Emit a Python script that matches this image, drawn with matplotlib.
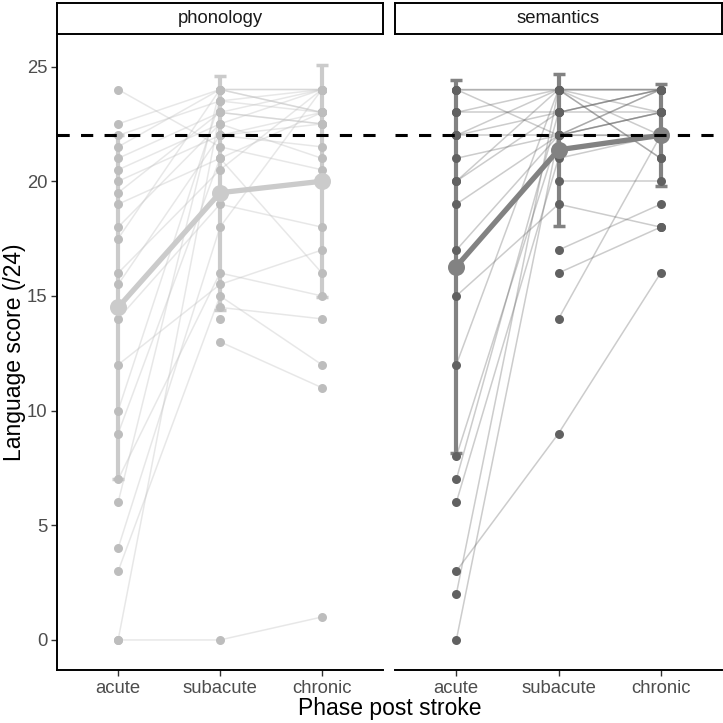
import numpy as np
import matplotlib
matplotlib.use("Agg")
import matplotlib.pyplot as plt

plt.rcParams["font.family"] = ["Liberation Sans", "DejaVu Sans"]

PHASES = ["acute", "subacute", "chronic"]
FACETS = ["phonology", "semantics"]
nan = np.nan

# individual participants: (acute, subacute, chronic), nan = missing
PHON_SUBJ = [
    (24, 21.5, 20.5), (22.5, 24, 24), (22, 23.5, 23), (21.5, 24, 24),
    (21, 23, 22.5), (20.5, 22.5, 24), (20, 22, 21.5), (19.5, 23, 24),
    (19, 21, 23), (18, 22.5, 21), (17.5, 24, 23), (16, 20.5, 24),
    (15.5, 22, 22.5), (14, 19, 18), (12, 15.5, 17), (10, 23.5, 24),
    (9, 21, 16), (7, 16, 15), (6, 24, 23), (4, 18, 24), (3, 15, 12),
    (0, 0, 1), (0, 23, 22.5), (nan, 13, 11), (nan, 14.5, 14),
    (nan, 14, nan), (nan, 22, 23), (nan, 24, nan), (nan, 19.5, 20),
]
SEM_SUBJ = [
    (24, 24, 24), (24, 22, 23), (23, 23, 23), (23, 24, 24), (22, 22, 22),
    (22, 24, 21), (21, 22, 23), (20, 23, 24), (19, 22, 24), (17, 22, 23),
    (15, 19, 18), (12, 24, 22), (8, 22, 24), (7, 23, 24), (6, 21, 22),
    (3, 9, 16), (2, 24, 24), (0, 22, 22), (nan, 20, 20), (nan, 17, 19),
    (nan, 16, 18), (nan, 14, 22), (20, 24, 21), (22, 23, 24), (24, 24, 23),
]
# group summaries (mean +/- SD)
PHON_MEAN = [14.5, 19.5, 20.0]
PHON_SD = [7.5, 5.1, 5.05]
SEM_MEAN = [16.28, 21.37, 22.0]
SEM_SD = [8.15, 3.3, 2.22]
CUTOFF = 22

PT_COL = {"phonology": "#bdbdbd", "semantics": "#616161"}
SUM_COL = {"phonology": "#cbcbcb", "semantics": "#828282"}
LINE_ALPHA = {"phonology": 0.35, "semantics": 0.32}

W = H = 723
fig = plt.figure(figsize=(W / 100, H / 100), dpi=100)

def fx(px):
    return px / W

def fy(px):
    return 1 - px / H

panels = [(57, 383), (395, 722)]
top, bot = 34, 670
data = {"phonology": (PHON_SUBJ, PHON_MEAN, PHON_SD),
        "semantics": (SEM_SUBJ, SEM_MEAN, SEM_SD)}
x = np.arange(len(PHASES))

for i, (facet, (l, r)) in enumerate(zip(FACETS, panels)):
    ax = fig.add_axes([fx(l), fy(bot), fx(r - l), fy(top) - fy(bot)])
    subj, mean, sd = data[facet]
    for s in subj:
        s = np.array(s, dtype=float)
        ok = ~np.isnan(s)
        ax.plot(x[ok], s[ok], color=PT_COL[facet], alpha=LINE_ALPHA[facet],
                lw=1.1, zorder=1)
        ax.scatter(x[ok], s[ok], s=42, color=PT_COL[facet], lw=0, zorder=5)
    ax.errorbar(x, mean, yerr=sd, fmt="none", ecolor=SUM_COL[facet],
                elinewidth=3, capsize=4, capthick=2.5, zorder=3)
    ax.plot(x, mean, color=SUM_COL[facet], lw=3.8, zorder=4,
            solid_capstyle="round")
    ax.scatter(x, mean, s=150, color=SUM_COL[facet], lw=0, zorder=6)
    ax.axhline(CUTOFF, color="black", lw=2.2, dashes=(4, 3.7), zorder=7)

    ax.set_xlim(-0.6, 2.6)
    ax.set_ylim(-1.31, 26.42)
    ax.set_xticks(x)
    ax.set_xticklabels(PHASES, fontsize=13.3, color="#4d4d4d")
    ax.set_yticks([0, 5, 10, 15, 20, 25])
    ax.tick_params(axis="both", length=4, width=1, color="#333333", pad=3)
    for sp in ["top", "right"]:
        ax.spines[sp].set_visible(False)
    ax.spines["bottom"].set_linewidth(1.4)
    ax.spines["left"].set_linewidth(1.4)
    if i == 0:
        ax.set_yticklabels([0, 5, 10, 15, 20, 25], fontsize=13.3, color="#4d4d4d")
    else:
        ax.spines["left"].set_visible(False)
        ax.tick_params(axis="y", left=False, labelleft=False)

    # facet strip
    sax = fig.add_axes([fx(l), fy(top), fx(r - l), fy(3) - fy(top)])
    sax.set_xticks([])
    sax.set_yticks([])
    for sp in sax.spines.values():
        sp.set_linewidth(1.4)
    sax.text(0.5, 0.5, facet, ha="center", va="center", fontsize=13.3,
             color="#1a1a1a", transform=sax.transAxes)

fig.text(fx(15), fy((top + bot) / 2), "Language score (/24)", rotation=90,
         ha="center", va="center", fontsize=16.5)
fig.text(fx((57 + 722) / 2), fy(709), "Phase post stroke", ha="center",
         va="center", fontsize=16.5)

fig.savefig("out.png", dpi=100)
